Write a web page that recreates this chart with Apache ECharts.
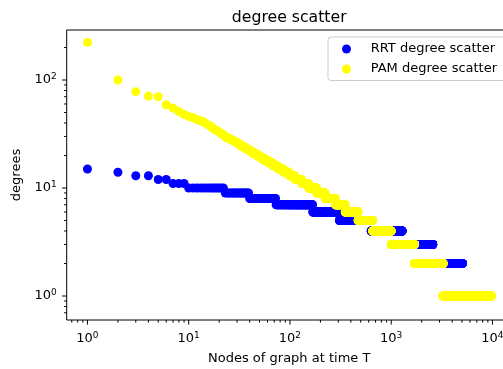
<!DOCTYPE html>
<html><head><meta charset="utf-8">
<script src="https://cdn.jsdelivr.net/npm/echarts@6/dist/echarts.min.js"></script>
<style>html,body{margin:0;padding:0;background:#fff}#c{width:503px;height:369px}</style>
</head><body><div id="c"></div>
<script>
// Degree runs: each degree value with the last rank (node index) that has it
const rrtDegrees  = [15, 14, 13, 12, 11, 10, 9, 8, 7, 6, 5, 4, 3, 2];
const rrtLastRank = [1, 2, 4, 6, 9, 22, 39, 72, 167, 307, 633, 1280, 2570, 5020];

const pamDegrees  = [223, 100, 78, 71, 70, 59, 55, 51, 48, 46, 45, 43, 42, 41, 39, 38, 36, 35, 34, 33, 32, 31, 30,
                     29, 28, 27, 26, 25, 24, 23, 22, 21, 20, 19, 18, 17, 16, 15, 14, 13, 12, 11, 10, 9, 8, 7, 6, 5, 4, 3, 2, 1];
const pamLastRank = [1, 2, 3, 4, 5, 6, 7, 8, 9, 10, 11, 12, 13, 14, 15, 16, 17, 18, 19, 20, 21, 22, 23,
                     25, 27, 29, 31, 33, 36, 39, 42, 46, 50, 55, 61, 68, 76, 86, 98, 112, 130, 152, 183, 222, 280, 350, 470, 655, 1000, 1700, 3250, 9700];

const seriesNames = ['RRT degree scatter', 'PAM degree scatter'];

const xMajorTicks = [1, 10, 100, 1000, 10000];
const xMinorTicks = [0.7, 0.8, 0.9, 2, 3, 4, 5, 6, 7, 8, 9, 20, 30, 40, 50, 60, 70, 80, 90,
                     200, 300, 400, 500, 600, 700, 800, 900, 2000, 3000, 4000, 5000, 6000, 7000, 8000, 9000];
const yMajorTicks = [1, 10, 100];
const yMinorTicks = [0.7, 0.8, 0.9, 2, 3, 4, 5, 6, 7, 8, 9, 20, 30, 40, 50, 60, 70, 80, 90, 200];

const X_MIN = Math.pow(10, -0.205), X_MAX = Math.pow(10, 4.19);
const Y_MIN = Math.pow(10, -0.222), Y_MAX = Math.pow(10, 2.463);

function expandRuns(degrees, lastRanks) {
  const pts = [];
  let r = 1;
  for (let i = 0; i < degrees.length; i++) {
    for (; r <= lastRanks[i]; r++) pts.push([r, degrees[i]]);
  }
  return pts;
}

function tickSeries(values, axis, len) {
  return {
    type: 'custom', silent: true, clip: false, z: 10, animation: false,
    data: values.map(v => axis === 'x' ? [v, Y_MIN] : [X_MIN, v]),
    renderItem: function (params, api) {
      const p = api.coord([api.value(0), api.value(1)]);
      if (axis === 'x') {
        return { type: 'line', shape: { x1: p[0], y1: p[1], x2: p[0], y2: p[1] + len },
                 style: { stroke: '#000', lineWidth: 1 } };
      }
      return { type: 'line', shape: { x1: p[0] - len, y1: p[1], x2: p[0], y2: p[1] },
               style: { stroke: '#000', lineWidth: 1 } };
    }
  };
}

const FONT = 'DejaVu Sans';
function powLabel(v) {
  const e = Math.log10(v);
  const r = Math.round(e);
  if (Math.abs(e - r) > 1e-6) return '';
  return '{b|10}{s|' + r + '}';
}
const labelRich = {
  b: { fontSize: 13, fontFamily: FONT, color: '#000', lineHeight: 15 },
  s: { fontSize: 9, fontFamily: FONT, color: '#000', lineHeight: 9, verticalAlign: 'top' }
};

const chart = echarts.init(document.getElementById('c'), null, { renderer: 'canvas' });
chart.setOption({
  animation: false,
  backgroundColor: '#fff',
  title: {
    text: 'degree scatter', left: 289.2, top: 9.5, padding: 0, textAlign: 'center',
    textStyle: { fontSize: 15.7, fontWeight: 'normal', fontFamily: FONT, color: '#000' }
  },
  legend: {
    data: seriesNames, orient: 'vertical', left: 328, top: 37,
    padding: [4.5, 16, 4, 14], itemWidth: 9, itemHeight: 9, itemGap: 5, icon: 'circle',
    backgroundColor: 'rgba(255,255,255,0.8)', borderColor: '#cccccc', borderWidth: 1, borderRadius: 3,
    formatter: name => '{t|' + name + '}',
    textStyle: { fontSize: 13, fontFamily: FONT, color: '#000', lineHeight: 15,
      rich: { t: { fontSize: 13, fontFamily: FONT, color: '#000', lineHeight: 15, padding: [0, 0, 0, 14.7] } } }
  },
  grid: {
    left: 66.7, right: -8.7, top: 30, bottom: 49, show: true,
    borderColor: '#000', borderWidth: 1, backgroundColor: 'transparent',
    containLabel: false, outerBoundsMode: 'none'
  },
  xAxis: {
    type: 'log', logBase: 10, min: X_MIN, max: X_MAX,
    name: 'Nodes of graph at time T', nameLocation: 'middle', nameGap: 32,
    nameTextStyle: { fontSize: 13, fontFamily: FONT, color: '#000' },
    axisLine: { show: false }, axisTick: { show: false }, splitLine: { show: false },
    axisLabel: { formatter: powLabel, rich: labelRich, margin: 11 }
  },
  yAxis: {
    type: 'log', logBase: 10, min: Y_MIN, max: Y_MAX,
    name: 'degrees', nameLocation: 'middle', nameGap: 42,
    nameTextStyle: { fontSize: 13, fontFamily: FONT, color: '#000' },
    axisLine: { show: false }, axisTick: { show: false }, splitLine: { show: false },
    axisLabel: { formatter: powLabel, rich: labelRich, margin: 10 }
  },
  series: [
    { type: 'scatter', name: seriesNames[0], data: expandRuns(rrtDegrees, rrtLastRank),
      symbol: 'circle', symbolSize: 9, itemStyle: { color: '#0000ff', opacity: 1 },
      progressive: 0, silent: true, z: 2 },
    { type: 'scatter', name: seriesNames[1], data: expandRuns(pamDegrees, pamLastRank),
      symbol: 'circle', symbolSize: 9, itemStyle: { color: '#ffff00', opacity: 1 },
      progressive: 0, silent: true, z: 3 },
    tickSeries(xMajorTicks, 'x', 4.6),
    tickSeries(xMinorTicks, 'x', 2.6),
    tickSeries(yMajorTicks, 'y', 4.6),
    tickSeries(yMinorTicks, 'y', 2.6)
  ]
});
</script></body></html>
